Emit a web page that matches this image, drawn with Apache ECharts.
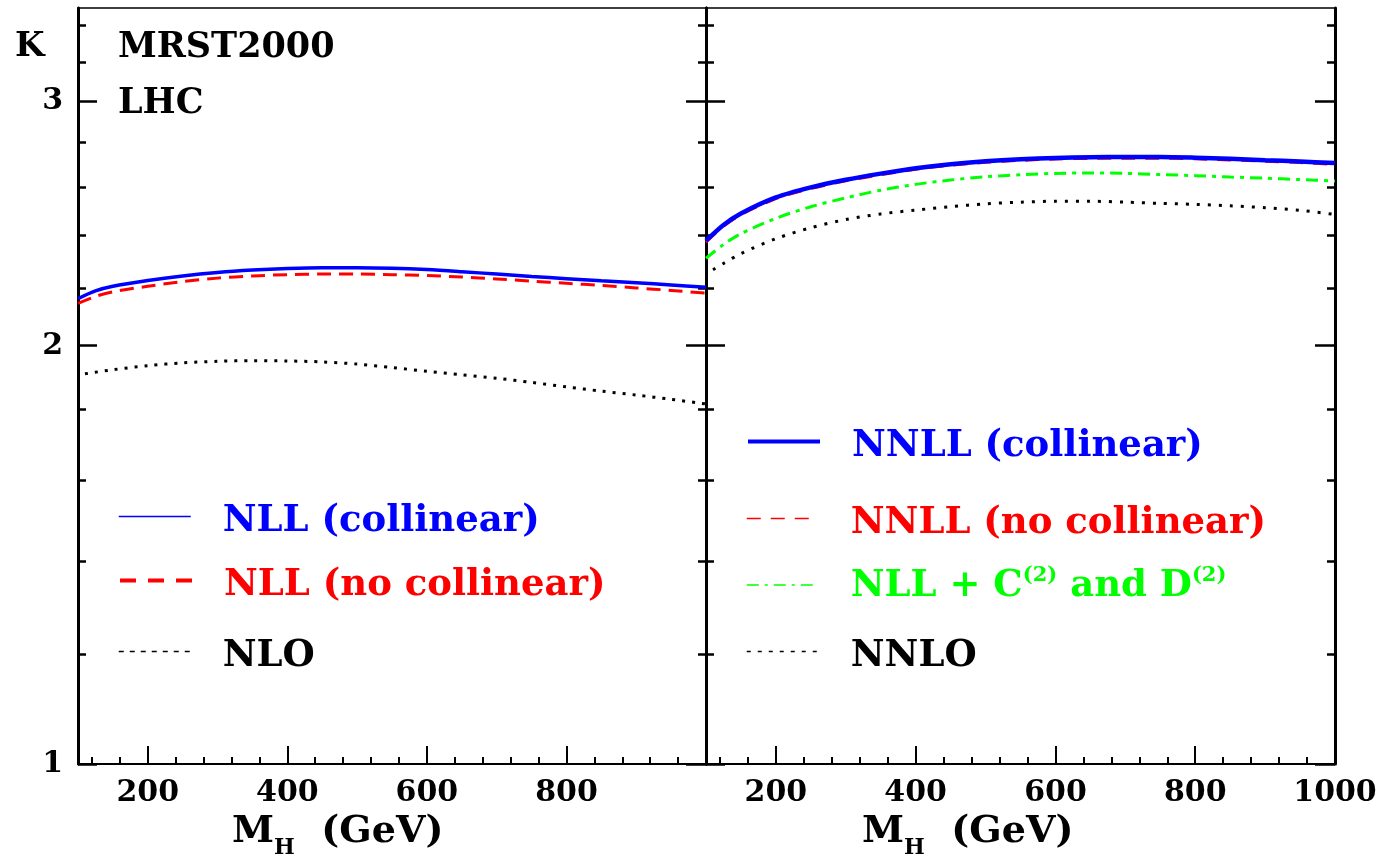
<!DOCTYPE html>
<html><head><meta charset="utf-8">
<script src="https://cdn.jsdelivr.net/npm/echarts@6/dist/echarts.min.js"></script>
<style>html,body{margin:0;padding:0;background:#fff}#c{width:1381px;height:858px}</style>
</head><body><div id="c"></div>
<script>
// ---------------- data ----------------
const massGrid = [100,125,150,200,250,300,350,400,450,500,550,600,650,700,750,800,850,900,950,1000];
const massLO   = [110,150,200,250,300,350,400,450,500,550,600,650,700,750,800,850,900,950,1000];
const massNNLO = [110,125,150,200,250,300,350,400,450,500,550,600,650,700,750,800,850,900,950,1000];

// left panel
const nllCollinear   = [2.162,2.190,2.207,2.228,2.245,2.258,2.267,2.273,2.276,2.276,2.274,2.269,2.261,2.252,2.243,2.235,2.227,2.220,2.212,2.203];
const nllNoCollinear = [2.145,2.170,2.187,2.207,2.224,2.237,2.245,2.250,2.252,2.252,2.250,2.247,2.241,2.234,2.226,2.218,2.210,2.201,2.192,2.182];
const nlo            = [1.909,1.922,1.935,1.944,1.949,1.951,1.950,1.947,1.940,1.929,1.917,1.906,1.895,1.882,1.868,1.855,1.843,1.830,1.816];

// right panel
const nnllCollinear   = [2.380,2.443,2.490,2.557,2.600,2.633,2.660,2.684,2.702,2.715,2.724,2.730,2.733,2.734,2.734,2.731,2.726,2.720,2.714,2.707];
const nnllNoCollinear = [2.374,2.437,2.484,2.551,2.594,2.627,2.654,2.678,2.696,2.709,2.718,2.724,2.727,2.728,2.728,2.725,2.720,2.714,2.708,2.700];
const nllC2D2         = [2.312,2.365,2.408,2.470,2.518,2.555,2.588,2.613,2.632,2.646,2.655,2.661,2.663,2.661,2.656,2.651,2.645,2.640,2.634,2.628];
const nnlo            = [2.268,2.292,2.330,2.388,2.432,2.465,2.488,2.504,2.518,2.530,2.537,2.541,2.541,2.537,2.532,2.528,2.522,2.514,2.503,2.486];

// ticks
const yMajorTicks = [1,2,3];
const yMinorTicks = [1.2,1.4,1.6,1.8,2.2,2.4,2.6,2.8,3.2,3.4];
const xMajorTicks = [200,400,600,800,1000];
const xMinorTicks = [120,160,240,280,320,360,440,480,520,560,640,680,720,760,840,880,920,960];
const xLabelsLeft  = [200,400,600,800];
const xLabelsRight = [200,400,600,800,1000];
const yMin = 1, yMax = 3.5, xMin = 100, xMax = 1000;

// ---------------- helpers ----------------
const FONT = 'DejaVu Serif';
const GREEN = '#00ff00';
const pairs = (xs, ys) => xs.map((x, i) => [x, ys[i]]);
const LOGMAX = Math.log10(yMax);
const lg = a => a.map(v => Math.log10(v));

function xAxesFor(g, labels) {
  return [
    {type:'value', gridIndex:g, min:xMin, max:xMax, position:'bottom',
     axisLine:{show:true, onZero:false, lineStyle:{color:'#000', width:2}},
     axisTick:{show:true, inside:true, length:18, customValues:xMajorTicks, lineStyle:{color:'#000', width:2}},
     axisLabel:{show:true, customValues:labels, margin:14, color:'#000', fontSize:30, fontFamily:FONT, fontWeight:'bold',
       formatter: v => String(v)},
     splitLine:{show:false}},
    {type:'value', gridIndex:g, min:xMin, max:xMax, position:'bottom',
     axisLine:{show:false, onZero:false},
     axisTick:{show:true, inside:true, length:7, customValues:xMinorTicks, lineStyle:{color:'#000', width:2}},
     axisLabel:{show:false}, splitLine:{show:false}},
    {type:'value', gridIndex:g, min:xMin, max:xMax, position:'top',
     axisLine:{show:true, onZero:false, lineStyle:{color:'#000', width:1.5}},
     axisTick:{show:false}, axisLabel:{show:false}, splitLine:{show:false}}
  ];
}
function yAxesFor(g, showLabels) {
  const tickAxis = (pos, vals, len, line, labels) => ({
    type:'value', gridIndex:g, min:0, max:LOGMAX, position:pos,
    axisLine:{show:line, onZero:false, lineStyle:{color:'#000', width:3}},
    axisTick:{show:true, inside:true, length:len, customValues:lg(vals), lineStyle:{color:'#000', width:2.5}},
    axisLabel:{show:labels, customValues:lg(vals), margin:15, color:'#000', fontSize:30, fontFamily:FONT, fontWeight:'bold',
      formatter: v => String(Math.round(Math.pow(10, v) * 10) / 10)},
    splitLine:{show:false}
  });
  return [
    {type:'log', logBase:10, gridIndex:g, min:yMin, max:yMax, position:'left',
     axisLine:{show:true, onZero:false, lineStyle:{color:'#000', width:3}},
     axisTick:{show:false}, axisLabel:{show:false}, splitLine:{show:false}, minorSplitLine:{show:false}},
    tickAxis('left', yMajorTicks, 19, false, showLabels),
    tickAxis('left', yMinorTicks, 8, false, false),
    tickAxis('right', yMajorTicks, 20, true, false),
    tickAxis('right', yMinorTicks, 8, false, false)
  ];
}

function line(name, xi, yi, data, color, width, type, z) {
  return {name, type:'line', xAxisIndex:xi, yAxisIndex:yi, data, symbol:'none', smooth:0.3,
    silent:true, animation:false, z: z || 2,
    lineStyle:{color, width, type}, itemStyle:{color}};
}

function richFor(color) {
  const base = {color, fontFamily:FONT, fontWeight:'bold'};
  return {
    t: Object.assign({fontSize:37, lineHeight:40, padding:[10,0,0,0]}, base),
    n: Object.assign({fontSize:37, lineHeight:40, padding:[10,0,0,0], verticalAlign:'bottom'}, base),
    s: Object.assign({fontSize:21, lineHeight:22, verticalAlign:'top'}, base)
  };
}
function legendFor(name, left, lineY, color, ls, fmt) {
  return {show:true, left, top: lineY - 25, orient:'vertical', selectedMode:false, padding:0,
    itemWidth:72, itemHeight:14,
    data:[{name, lineStyle:ls, itemStyle:{opacity:0, borderWidth:0}}],
    formatter: fmt || (n => '{t|' + n + '}'),
    textStyle:{color, fontSize:37, fontFamily:FONT, fontWeight:'bold', padding:[0,0,0,27], rich:richFor(color)}};
}

const GREEN_NAME = 'NLL + C(2) and D(2)';
const axisNameRich = {
  m:{fontSize:38, fontFamily:FONT, fontWeight:'bold', fill:'#000', lineHeight:46, verticalAlign:'top'},
  h:{fontSize:22, fontFamily:FONT, fontWeight:'bold', fill:'#000', lineHeight:22, verticalAlign:'bottom'}
};

const option = {
  backgroundColor:'#ffffff',
  animation:false,
  grid:[
    {left:78, top:8, width:628, height:756},
    {left:706, top:8, width:629, height:756}
  ],
  xAxis:[...xAxesFor(0, xLabelsLeft), ...xAxesFor(1, xLabelsRight)],
  yAxis:[...yAxesFor(0, true), ...yAxesFor(1, false)],
  legend:[
    legendFor('NLL (collinear)', 118, 518, '#0000ff', {width:1.5, type:'solid', color:'#0000ff'}),
    legendFor('NLL (no collinear)', 118, 582, '#ff0000', {width:4, type:[16,12], color:'#ff0000'}),
    legendFor('NLO', 118, 653, '#000000', {width:1.5, type:[5,6], color:'#000'}),
    legendFor('NNLL (collinear)', 746, 443, '#0000ff', {width:4, type:'solid', color:'#0000ff'}),
    legendFor('NNLL (no collinear)', 746, 520, '#ff0000', {width:1.5, type:[14,10], color:'#ff0000'}),
    legendFor(GREEN_NAME, 746, 583, GREEN, {width:1.5, type:[12,6,3,6], color:GREEN},
      () => '{n|NLL + C}{s|(2)}{n| and D}{s|(2)}'),
    legendFor('NNLO', 746, 653, '#000000', {width:1.5, type:[4,7], color:'#000'})
  ],
  graphic:[
    {type:'text', left:15, top:30, style:{text:'K', font:'bold 34px "DejaVu Serif"', fill:'#000'}},
    {type:'text', left:118, top:30, style:{text:'MRST2000', font:'bold 35px "DejaVu Serif"', fill:'#000'}},
    {type:'text', left:118, top:86, style:{text:'LHC', font:'bold 35px "DejaVu Serif"', fill:'#000'}},
    {type:'text', left:232, top:813, style:{text:'{m|M}{h|H}{m|  (GeV)}', rich:axisNameRich}},
    {type:'text', left:862, top:813, style:{text:'{m|M}{h|H}{m|  (GeV)}', rich:axisNameRich}}
  ],
  series:[
    line('NLO', 0, 0, pairs(massLO, nlo), '#000000', 3, [3,7]),
    line('NLL (no collinear)', 0, 0, pairs(massGrid, nllNoCollinear), '#ff0000', 3, [14,8]),
    line('NLL (collinear)', 0, 0, pairs(massGrid, nllCollinear), '#0000ff', 3.5, 'solid', 3),
    line('NNLO', 3, 5, pairs(massNNLO, nnlo), '#000000', 3, [3,8]),
    line(GREEN_NAME, 3, 5, pairs(massGrid, nllC2D2), GREEN, 3, [12,6,4,6]),
    line('NNLL (no collinear)', 3, 5, pairs(massGrid, nnllNoCollinear), '#ff0000', 2.5, [14,10]),
    line('NNLL (collinear)', 3, 5, pairs(massGrid, nnllCollinear), '#0000ff', 4.5, 'solid', 3)
  ]
};
const chart = echarts.init(document.getElementById('c'), null, {renderer:'canvas'});
chart.setOption(option);
</script></body></html>
